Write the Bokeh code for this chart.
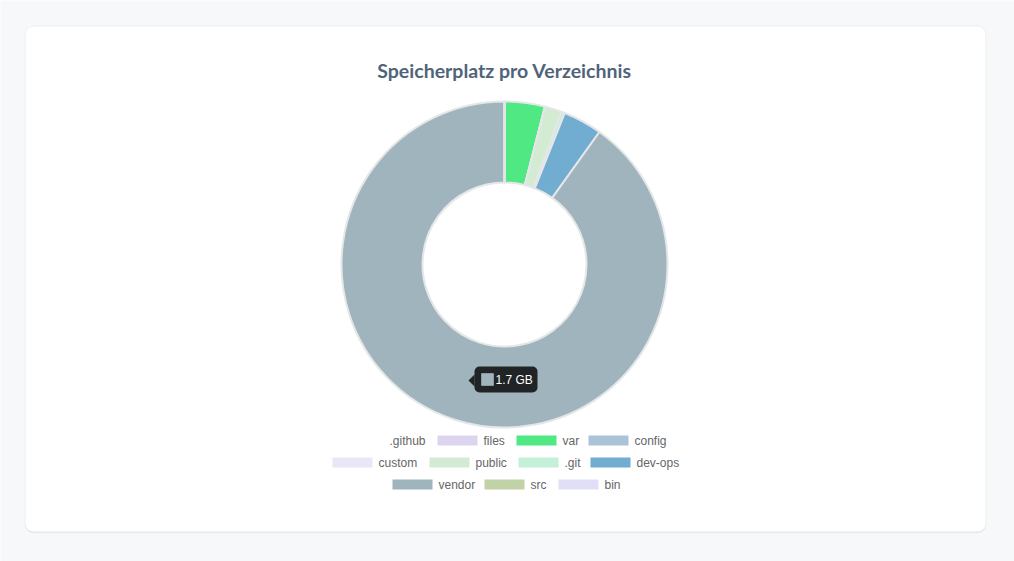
from bokeh.plotting import figure
from bokeh.models import Range1d, BoxAnnotation, Label, ColumnDataSource
from bokeh.core.properties import value
from bokeh.embed import file_html
from bokeh.resources import INLINE
import math

# ---- data ----
labels = [".github", "files", "var", "config", "custom", "public", ".git", "dev-ops", "vendor", "src", "bin"]
sizes_mb = [0.1, 0.2, 75, 0.3, 0.1, 32, 6, 73, 1700, 0.2, 0.1]
colors = ["#ffffff", "#ddd5f0", "#4fe883", "#a9c4d9", "#e9e7f5", "#d3ebd3",
          "#c4efd9", "#71acd1", "#9fb4bc", "#c2d2a7", "#e1dff6"]
title = "Speicherplatz pro Verzeichnis"
tooltip_index = 8

# ---- layout ----
W, H = 1014, 561
def Y(py):
    return H - py

legend_x = [343, 437, 516, 588, 332, 429, 518, 590, 392, 484, 558]
legend_row = [0, 0, 0, 0, 1, 1, 1, 1, 2, 2, 2]
row_y = [440, 462, 484]

p = figure(width=W, height=H, x_range=Range1d(0, W), y_range=Range1d(0, H),
           output_backend="svg", toolbar_location=None, min_border=0,
           x_axis_type=None, y_axis_type=None,
           background_fill_color="#f7f8fa", border_fill_color="#f7f8fa",
           outline_line_color=None)
p.grid.visible = False

# card with shadow
p.add_layout(BoxAnnotation(left=24, right=986, top=Y(25), bottom=Y(533), fill_color="#000000",
                           fill_alpha=0.03, line_color=None, border_radius=9, level="underlay"))
p.add_layout(BoxAnnotation(left=25, right=985, top=Y(26), bottom=Y(532), fill_color="#000000",
                           fill_alpha=0.05, line_color=None, border_radius=8, level="underlay"))
p.add_layout(BoxAnnotation(left=25, right=985, top=Y(26), bottom=Y(531), fill_color="#ffffff",
                           fill_alpha=1, line_color=None, border_radius=8, level="underlay"))

p.add_layout(Label(x=504, y=Y(70), text=title, text_align="center", text_baseline="middle",
                   text_font="Lato", text_font_style="bold", text_font_size="19.5px",
                   text_color="#4f6479"))

# donut
total = sum(sizes_mb)
starts, ends = [], []
acc = 0.0
for v in sizes_mb:
    starts.append(math.pi / 2 - acc / total * 2 * math.pi)
    acc += v
    ends.append(math.pi / 2 - acc / total * 2 * math.pi)
src = ColumnDataSource(dict(label=labels, value=sizes_mb, color=colors, start=starts, end=ends))
p.annular_wedge(x=504, y=Y(264), inner_radius=82, outer_radius=163,
                start_angle="start", end_angle="end", direction="clock",
                fill_color="color", line_color="#e4e6e8", line_width=2, source=src)

# legend
lsrc = ColumnDataSource(dict(
    x=[lx + 20 for lx in legend_x],
    tx=[lx + 46 for lx in legend_x],
    y=[Y(row_y[r]) for r in legend_row],
    label=labels, color=colors))
p.rect(x="x", y="y", width=40, height=10, fill_color="color", line_color=None, source=lsrc)
p.text(x="tx", y="y", text="label", source=lsrc, text_font=value("Liberation Sans"),
       text_font_size="12px", text_baseline="middle", text_color="#666666")

# tooltip
p.patch([474, 468, 474], [Y(374), Y(380), Y(386)], fill_color="#000000", fill_alpha=0.8, line_color=None)
p.add_layout(BoxAnnotation(left=474, right=537, top=Y(366), bottom=Y(392), fill_color="#000000",
                           fill_alpha=0.8, line_color=None, border_radius=5, level="overlay"))
p.add_layout(BoxAnnotation(left=481, right=493, top=Y(373), bottom=Y(385), fill_color=colors[tooltip_index],
                           fill_alpha=1.0, line_color="#ffffff", line_width=1, level="overlay"))
p.add_layout(Label(x=495, y=Y(379), text=f"{sizes_mb[tooltip_index] / 1000:.1f} GB",
                   text_align="left", text_baseline="middle", text_font="Liberation Sans",
                   text_font_size="12px", text_color="#ffffff", level="overlay"))

open("out.html", "w").write(file_html(p, INLINE))
